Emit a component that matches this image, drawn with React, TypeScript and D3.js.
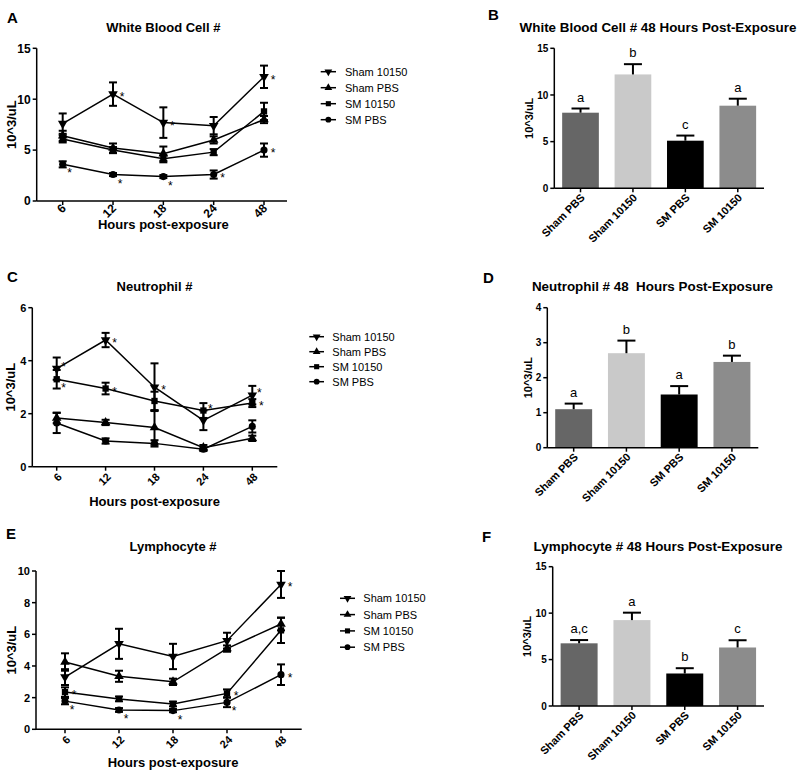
import React from "react";
import * as d3 from "d3";

const FONT = "'Liberation Sans', Arial, Helvetica, sans-serif";

// ---------- shared categories ----------
const hours = ["6", "12", "18", "24", "48"];
const seriesNames = ["Sham 10150", "Sham PBS", "SM 10150", "SM PBS"];
const seriesMarkers = ["tri-down", "tri-up", "square", "circle"];
const barGroups = ["Sham PBS", "Sham 10150", "SM PBS", "SM 10150"];
const barColors = ["#666666", "#c9c9c9", "#000000", "#8c8c8c"];

// ---------- A: White blood cells over time ----------
const wbcSham10150 = [7.6, 10.5, 7.7, 7.4, 12.2];
const wbcSham10150Err = [1.0, 1.15, 1.5, 0.85, 1.1];
const wbcShamPBS = [6.4, 5.2, 4.65, 6.0, 8.0];
const wbcShamPBSErr = [0.5, 0.45, 0.7, 0.35, 0.35];
const wbcSM10150 = [6.1, 5.0, 4.15, 4.8, 8.8];
const wbcSM10150Err = [0.35, 0.3, 0.35, 0.3, 0.85];
const wbcSMPBS = [3.6, 2.6, 2.4, 2.6, 5.0];
const wbcSMPBSErr = [0.3, 0.15, 0.15, 0.4, 0.65];
// asterisk flags: 0 none, 1 right, 2 lower-right, 3 upper-right
const wbcStars = [
  [0, 1, 1, 0, 1],
  [0, 0, 0, 0, 0],
  [0, 0, 0, 0, 0],
  [2, 2, 2, 1, 1],
];
const wbcTicks = [0, 5, 10, 15];

// ---------- C: Neutrophils over time ----------
const neutSham10150 = [3.7, 4.78, 3.0, 1.75, 2.7];
const neutSham10150Err = [0.42, 0.27, 0.9, 0.37, 0.35];
const neutShamPBS = [1.84, 1.67, 1.48, 0.72, 1.07];
const neutShamPBSErr = [0.2, 0.1, 0.65, 0.1, 0.1];
const neutSM10150 = [3.3, 2.95, 2.48, 2.12, 2.4];
const neutSM10150Err = [0.35, 0.22, 0.35, 0.28, 0.15];
const neutSMPBS = [1.65, 0.97, 0.88, 0.66, 1.52];
const neutSMPBSErr = [0.38, 0.1, 0.12, 0.07, 0.23];
const neutStars = [
  [3, 1, 1, 0, 3],
  [0, 0, 0, 0, 0],
  [2, 1, 0, 3, 1],
  [0, 0, 0, 0, 0],
];
const neutTicks = [0, 2, 4, 6];

// ---------- E: Lymphocytes over time ----------
const lymSham10150 = [3.3, 5.4, 4.6, 5.6, 9.15];
const lymSham10150Err = [0.5, 0.95, 0.8, 0.5, 0.85];
const lymShamPBS = [4.25, 3.35, 3.0, 5.1, 6.65];
const lymShamPBSErr = [0.55, 0.35, 0.2, 0.2, 0.4];
const lymSM10150 = [2.35, 1.92, 1.6, 2.27, 6.25];
const lymSM10150Err = [0.3, 0.15, 0.15, 0.25, 0.8];
const lymSMPBS = [1.78, 1.22, 1.18, 1.7, 3.45];
const lymSMPBSErr = [0.2, 0.12, 0.1, 0.3, 0.65];
const lymStars = [
  [0, 0, 0, 0, 1],
  [0, 0, 0, 0, 0],
  [1, 0, 0, 1, 0],
  [2, 2, 2, 2, 1],
];
const lymTicks = [0, 2, 4, 6, 8, 10];

// ---------- B / D / F: 48 hours bars ----------
const wbc48 = [8.1, 12.2, 5.1, 8.85];
const wbc48Err = [0.45, 1.1, 0.55, 0.75];
const wbc48Letters = ["a", "b", "c", "a"];
const wbc48Ticks = [0, 5, 10, 15];

const neut48 = [1.1, 2.7, 1.52, 2.45];
const neut48Err = [0.16, 0.36, 0.24, 0.18];
const neut48Letters = ["a", "b", "a", "b"];
const neut48Ticks = [0, 1, 2, 3, 4];

const lym48 = [6.75, 9.25, 3.5, 6.3];
const lym48Err = [0.35, 0.8, 0.57, 0.78];
const lym48Letters = ["a,c", "a", "b", "c"];
const lym48Ticks = [0, 5, 10, 15];

// ---------- components ----------
function Marker({ type, x, y, size }: { type: string; x: number; y: number; size: number }) {
  const sym =
    type === "tri-down" || type === "tri-up"
      ? d3.symbolTriangle
      : type === "square"
      ? d3.symbolSquare
      : d3.symbolCircle;
  const p = d3.symbol(sym, size)() as string;
  const rot = type === "tri-down" ? 180 : 0;
  return <path d={p} transform={`translate(${x},${y}) rotate(${rot})`} fill="#000" />;
}

const starOffsets: Record<number, [number, number]> = {
  1: [9, 0],
  2: [7, 6],
  3: [7, -5],
};

function LinePanel(props: any) {
  const { g, title, letter, vals, errs, stars, ticks, fs } = props;
  const yMax = ticks[ticks.length - 1];
  const x = d3.scalePoint<string>().domain(hours).range([g.px0, g.px1]);
  const y = d3.scaleLinear().domain([0, yMax]).range([g.yBot, g.yTop]);
  const line = d3
    .line<number>()
    .x((_, i) => x(hours[i]) as number)
    .y((d) => y(d));
  const cx = (g.px0 + g.px1) / 2;
  const cy = (g.yTop + g.yBot) / 2;
  return (
    <g fontFamily={FONT}>
      <text x={g.lx} y={g.ly} fontSize={15} fontWeight="bold">{letter}</text>
      <text x={cx} y={g.titleY} fontSize={13} fontWeight="bold" textAnchor="middle">{title}</text>
      {/* axes */}
      <line x1={g.x0} x2={g.x0} y1={g.yTop} y2={g.yBot} stroke="#000" strokeWidth={1.5} />
      <line x1={g.x0} x2={g.x1} y1={g.yBot} y2={g.yBot} stroke="#000" strokeWidth={1.5} />
      {ticks.map((t: number) => (
        <g key={"yt" + t}>
          <line x1={g.x0 - 4} x2={g.x0} y1={y(t)} y2={y(t)} stroke="#000" strokeWidth={1.5} />
          <text x={g.x0 - 6} y={y(t) + fs * 0.36} fontSize={fs} fontWeight="bold" textAnchor="end">{t}</text>
        </g>
      ))}
      {hours.map((h) => (
        <g key={"xt" + h}>
          <line x1={x(h)} x2={x(h)} y1={g.yBot} y2={g.yBot + 4} stroke="#000" strokeWidth={1.5} />
          <text
            transform={`translate(${(x(h) as number) + g.tdx},${g.yBot + g.tdy}) rotate(-45)`}
            fontSize={fs}
            fontWeight="bold"
            textAnchor="end"
          >
            {h}
          </text>
        </g>
      ))}
      <text x={cx} y={g.xTitleY} fontSize={13} fontWeight="bold" textAnchor="middle">Hours post-exposure</text>
      <text transform={`translate(${g.yLabelX},${cy}) rotate(-90)`} fontSize={13} fontWeight="bold" textAnchor="middle">10^3/uL</text>
      {/* series */}
      {vals.map((s: number[], si: number) => (
        <path key={"l" + si} d={line(s) as string} fill="none" stroke="#000" strokeWidth={1.5} />
      ))}
      {vals.map((s: number[], si: number) =>
        s.map((v, i) => {
          const px = x(hours[i]) as number;
          const e = errs[si][i];
          return (
            <g key={"e" + si + "-" + i} stroke="#000" strokeWidth={2}>
              <line x1={px} x2={px} y1={y(v - e)} y2={y(v + e)} />
              <line x1={px - 4} x2={px + 4} y1={y(v - e)} y2={y(v - e)} />
              <line x1={px - 4} x2={px + 4} y1={y(v + e)} y2={y(v + e)} />
            </g>
          );
        })
      )}
      {vals.map((s: number[], si: number) =>
        s.map((v, i) => (
          <Marker key={"m" + si + "-" + i} type={seriesMarkers[si]} x={x(hours[i]) as number} y={y(v)} size={40} />
        ))
      )}
      {stars.map((row: number[], si: number) =>
        row.map((f, i) => {
          if (!f) return null;
          const [dx, dy] = starOffsets[f];
          return (
            <text
              key={"s" + si + "-" + i}
              x={(x(hours[i]) as number) + dx}
              y={y(vals[si][i]) + dy + 7}
              fontSize={12}
              textAnchor="middle"
            >
              *
            </text>
          );
        })
      )}
      {/* legend */}
      {seriesNames.map((n, i) => {
        const ly = g.legY + i * g.legDy;
        return (
          <g key={"lg" + i}>
            <line x1={g.legM0} x2={g.legM1} y1={ly} y2={ly} stroke="#000" strokeWidth={1.5} />
            <Marker type={seriesMarkers[i]} x={(g.legM0 + g.legM1) / 2} y={ly} size={26} />
            <text x={g.legT} y={ly + 4} fontSize={11}>{n}</text>
          </g>
        );
      })}
    </g>
  );
}

function BarPanel(props: any) {
  const { g, title, letter, vals, errs, letters, ticks } = props;
  const yMax = ticks[ticks.length - 1];
  const x = d3.scaleBand<string>().domain(barGroups).range([g.x0, g.x1]).paddingInner(0.3).paddingOuter(0.15);
  const y = d3.scaleLinear().domain([0, yMax]).range([g.yBot, g.yTop]);
  const bw = x.bandwidth();
  const cy = (g.yTop + g.yBot) / 2;
  return (
    <g fontFamily={FONT}>
      <text x={g.lx} y={g.ly} fontSize={15} fontWeight="bold">{letter}</text>
      <text x={g.titleX} y={g.titleY} fontSize={13.4} fontWeight="bold" textAnchor="middle" style={{ whiteSpace: "pre" }}>{title}</text>
      {vals.map((v: number, i: number) => {
        const bx = x(barGroups[i]) as number;
        const c = bx + bw / 2;
        const top = y(v + errs[i]);
        return (
          <g key={"b" + i}>
            <rect x={bx} y={y(v)} width={bw} height={g.yBot - y(v)} fill={barColors[i]} />
            <line x1={c} x2={c} y1={y(v)} y2={top} stroke="#000" strokeWidth={2} />
            <line x1={c - 9} x2={c + 9} y1={top} y2={top} stroke="#000" strokeWidth={2} />
            <text x={c} y={top - 7} fontSize={13} textAnchor="middle">{letters[i]}</text>
          </g>
        );
      })}
      <line x1={g.x0} x2={g.x0} y1={g.yTop} y2={g.yBot} stroke="#000" strokeWidth={1.5} />
      <line x1={g.x0} x2={g.x1} y1={g.yBot} y2={g.yBot} stroke="#000" strokeWidth={1.5} />
      {ticks.map((t: number) => (
        <g key={"yt" + t}>
          <line x1={g.x0 - 4} x2={g.x0} y1={y(t)} y2={y(t)} stroke="#000" strokeWidth={1.5} />
          <text x={g.x0 - 6} y={y(t) + 3.6} fontSize={10} fontWeight="bold" textAnchor="end">{t}</text>
        </g>
      ))}
      {barGroups.map((b) => {
        const c = (x(b) as number) + bw / 2;
        return (
          <g key={"xt" + b}>
            <line x1={c} x2={c} y1={g.yBot} y2={g.yBot + 4} stroke="#000" strokeWidth={1.5} />
            <text
              transform={`translate(${c + 5},${g.yBot + 10}) rotate(-45)`}
              fontSize={11}
              fontWeight="bold"
              textAnchor="end"
            >
              {b}
            </text>
          </g>
        );
      })}
      <text transform={`translate(${g.yLabelX},${cy}) rotate(-90)`} fontSize={11} fontWeight="bold" textAnchor="middle">10^3/uL</text>
    </g>
  );
}

// ---------- layout ----------
const geomA = { x0: 36.7, x1: 287, px0: 62.7, px1: 264, yTop: 48.3, yBot: 201, titleY: 32, lx: 7, ly: 23, xTitleY: 229, yLabelX: 15.5, tdx: 4, tdy: 8, legM0: 320.7, legM1: 336, legT: 345, legY: 71.7, legDy: 16 };
const geomC = { x0: 32.3, x1: 277.3, px0: 56.7, px1: 252.3, yTop: 307.7, yBot: 466.7, titleY: 291, lx: 7, ly: 282, xTitleY: 505.5, yLabelX: 15, tdx: 6, tdy: 11, legM0: 309.3, legM1: 324, legT: 332.3, legY: 336.7, legDy: 15 };
const geomE = { x0: 36, x1: 301.7, px0: 65, px1: 281, yTop: 571, yBot: 729.3, titleY: 551, lx: 6, ly: 539, xTitleY: 767, yLabelX: 15.5, tdx: 6, tdy: 11, legM0: 340, legM1: 355, legT: 363.3, legY: 598.3, legDy: 16.3 };
const geomB = { x0: 554.3, x1: 764, yTop: 48.3, yBot: 188.3, titleX: 658, titleY: 32, lx: 488, ly: 20, yLabelX: 532.5 };
const geomD = { x0: 547.3, x1: 758.3, yTop: 307.7, yBot: 447.7, titleX: 652.5, titleY: 291, lx: 483, ly: 283, yLabelX: 531.5 };
const geomF = { x0: 552.7, x1: 764, yTop: 566.7, yBot: 706, titleX: 658, titleY: 551, lx: 482, ly: 542, yLabelX: 531 };

export default function App() {
  return (
    <svg
      width={799}
      height={771}
      style={{ position: "absolute", left: 0, top: 0, background: "#fff" }}
    >
      <rect width={799} height={771} fill="#fff" />
      <LinePanel
        g={geomA}
        title="White Blood Cell #"
        letter="A"
        vals={[wbcSham10150, wbcShamPBS, wbcSM10150, wbcSMPBS]}
        errs={[wbcSham10150Err, wbcShamPBSErr, wbcSM10150Err, wbcSMPBSErr]}
        stars={wbcStars}
        ticks={wbcTicks}
        fs={12}
      />
      <LinePanel
        g={geomC}
        title="Neutrophil #"
        letter="C"
        vals={[neutSham10150, neutShamPBS, neutSM10150, neutSMPBS]}
        errs={[neutSham10150Err, neutShamPBSErr, neutSM10150Err, neutSMPBSErr]}
        stars={neutStars}
        ticks={neutTicks}
        fs={11}
      />
      <LinePanel
        g={geomE}
        title="Lymphocyte #"
        letter="E"
        vals={[lymSham10150, lymShamPBS, lymSM10150, lymSMPBS]}
        errs={[lymSham10150Err, lymShamPBSErr, lymSM10150Err, lymSMPBSErr]}
        stars={lymStars}
        ticks={lymTicks}
        fs={11}
      />
      <BarPanel g={geomB} title="White Blood Cell # 48 Hours Post-Exposure" letter="B" vals={wbc48} errs={wbc48Err} letters={wbc48Letters} ticks={wbc48Ticks} />
      <BarPanel g={geomD} title="Neutrophil # 48  Hours Post-Exposure" letter="D" vals={neut48} errs={neut48Err} letters={neut48Letters} ticks={neut48Ticks} />
      <BarPanel g={geomF} title="Lymphocyte # 48 Hours Post-Exposure" letter="F" vals={lym48} errs={lym48Err} letters={lym48Letters} ticks={lym48Ticks} />
    </svg>
  );
}
